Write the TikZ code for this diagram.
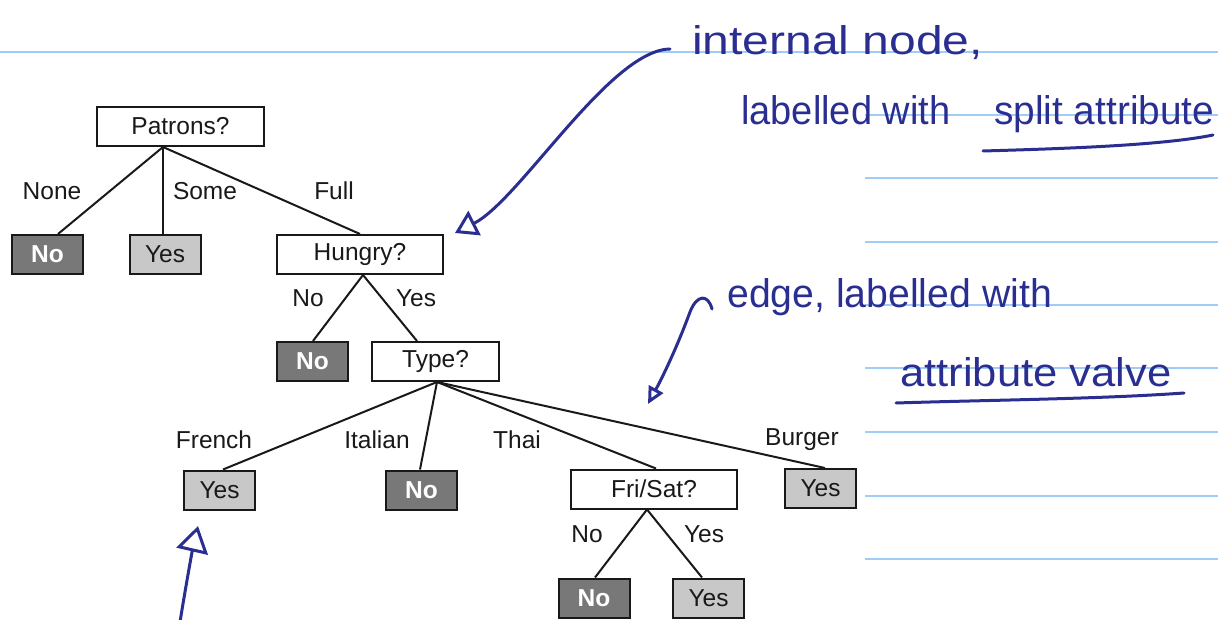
\documentclass[tikz,border=0pt]{standalone}
\usepackage{fontspec}
\setmainfont{Liberation Sans}
\usetikzlibrary{arrows.meta,calc}
\definecolor{ink}{RGB}{42,46,145}
\definecolor{rulecol}{RGB}{160,205,245}
\definecolor{darkleaf}{RGB}{120,120,120}
\definecolor{lightleaf}{RGB}{200,200,200}
\definecolor{treeink}{RGB}{25,25,25}
\begin{document}
\begin{tikzpicture}[x=1pt,y=-1pt,
  treefont/.style={font=\fontsize{24.5}{28}\selectfont},
  innerbox/.style={draw=treeink,line width=2pt,fill=white,inner sep=0pt,minimum height=39pt,treefont,text=treeink},
  leafno/.style={innerbox,fill=darkleaf,minimum width=71pt,text=white,font=\fontsize{24.5}{28}\selectfont\bfseries},
  leafyes/.style={innerbox,fill=lightleaf,minimum width=71pt},
  treeedge/.style={draw=treeink,line width=2pt},
  elabel/.style={treefont,text=treeink,inner sep=0pt},
  ruleline/.style={draw=rulecol,line width=2pt},
  hand/.style={draw=ink,line width=3pt,line cap=round,line join=round},
  handtext/.style={text=ink,font=\fontsize{40}{44}\selectfont,inner sep=0pt,anchor=base west},
]
\useasboundingbox (0,0) rectangle (1218,620);

% ruled notebook lines
\coordinate (r0a) at (0,52);   \coordinate (r0b) at (1218,52);
\draw[ruleline] (r0a) -- (r0b);
\foreach \yy in {115,178,242,305,368,432,496,559}{
  \draw[ruleline] (865,\yy) -- (1218,\yy);
}

% handwritten annotations
\node[handtext] (t1) at (692,55) {\scalebox{1.2}[1]{internal node,}};
\node[handtext] (t2) at (741,125) {\scalebox{0.95}[1]{labelled with}};
\node[handtext] (t3) at (994,125) {\scalebox{0.97}[1]{split attribute}};
\node[handtext] (t4) at (727,308) {\scalebox{0.98}[1]{edge, labelled with}};
\node[handtext] (t5) at (900,386) {\scalebox{1.09}[1]{attribute valve}};

% tree nodes
\node[innerbox,minimum width=167pt] (patrons) at (180.5,126.5) {Patrons?};
\node[leafno]  (no1)  at (47.5,254.5) {No};
\node[leafyes] (yes1) at (165,254.5) {Yes};
\node[innerbox,minimum width=166pt] (hungry) at (360,254.5) {Hungry?};
\node[leafno]  (no2)  at (312.5,361.5) {No};
\node[innerbox,minimum width=127pt] (type) at (435.5,361.5) {Type?};
\node[leafyes] (yes2) at (219.5,490) {Yes};
\node[leafno]  (no3)  at (421.5,490) {No};
\node[innerbox,minimum width=166pt] (frisat) at (654,489) {Fri/Sat?};
\node[leafyes] (yes3) at (820.5,488.5) {Yes};
\node[leafno]  (no4)  at (594,598) {No};
\node[leafyes] (yes4) at (708.5,598) {Yes};

% tree edges
\draw[treeedge] ([xshift=-17.5pt]patrons.south) -- ([xshift=10.5pt]no1.north);
\draw[treeedge] ([xshift=-17.5pt]patrons.south) -- ([xshift=-2pt]yes1.north);
\draw[treeedge] ([xshift=-17.5pt]patrons.south) -- (hungry.north);
\draw[treeedge] ([xshift=3pt]hungry.south) -- ([xshift=0.5pt]no2.north);
\draw[treeedge] ([xshift=3pt]hungry.south) -- ([xshift=-18.5pt]type.north);
\draw[treeedge] ([xshift=1.5pt]type.south) -- ([xshift=3.5pt]yes2.north);
\draw[treeedge] ([xshift=1.5pt]type.south) -- ([xshift=-1.5pt]no3.north);
\draw[treeedge] ([xshift=1.5pt]type.south) -- ([xshift=2pt]frisat.north);
\draw[treeedge] ([xshift=1.5pt]type.south) -- ([xshift=4.5pt]yes3.north);
\draw[treeedge] ([xshift=-7pt]frisat.south) -- ([xshift=1pt]no4.north);
\draw[treeedge] ([xshift=-7pt]frisat.south) -- ([xshift=-6.5pt]yes4.north);

% edge labels
\node[elabel] (lnone) at (52,191) {None};
\node[elabel] (lsome) at (205,191) {Some};
\node[elabel] (lfull) at (334,191) {Full};
\node[elabel] (lhno)  at (308,298) {No};
\node[elabel] (lhyes) at (416,298) {Yes};
\node[elabel] (lfrench)  at (214,440) {French};
\node[elabel] (litalian) at (377,440) {Italian};
\node[elabel] (lthai)    at (517,440) {Thai};
\node[elabel] (lburger)  at (802,440) {Burger};
\node[elabel] (lfno)  at (587,534) {No};
\node[elabel] (lfyes) at (704,534) {Yes};

% handwritten arrows and underlines
\coordinate (a1s) at (670,49);
\coordinate (a1e) at (455,233);
\draw[hand,-{Triangle[open,length=22pt,width=27pt]}] (a1s) .. controls (610,50) and (520,200) .. (a1e);

\coordinate (a2s) at (712,309);
\coordinate (a2m) at (690,312);
\coordinate (a2e) at (648,404);
\draw[hand,-{Triangle[open,length=17pt,width=16pt]}] (a2s) .. controls (708,294) and (697,294) .. (a2m) .. controls (676,350) and (661,380) .. (a2e);

\coordinate (a3s) at (180,622);
\coordinate (a3e) at (198,526);
\draw[hand,-{Triangle[open,length=26pt,width=32pt]}] (a3s) .. controls (186,585) and (192,552) .. (a3e);

\coordinate (u1s) at (983,151);
\coordinate (u1e) at (1213,135);
\draw[hand] (u1s) .. controls (1050,149) and (1160,146) .. (u1e);
\coordinate (u2s) at (896,403);
\coordinate (u2e) at (1184,393);
\draw[hand] (u2s) .. controls (990,400) and (1100,399) .. (u2e);
\end{tikzpicture}
\end{document}
